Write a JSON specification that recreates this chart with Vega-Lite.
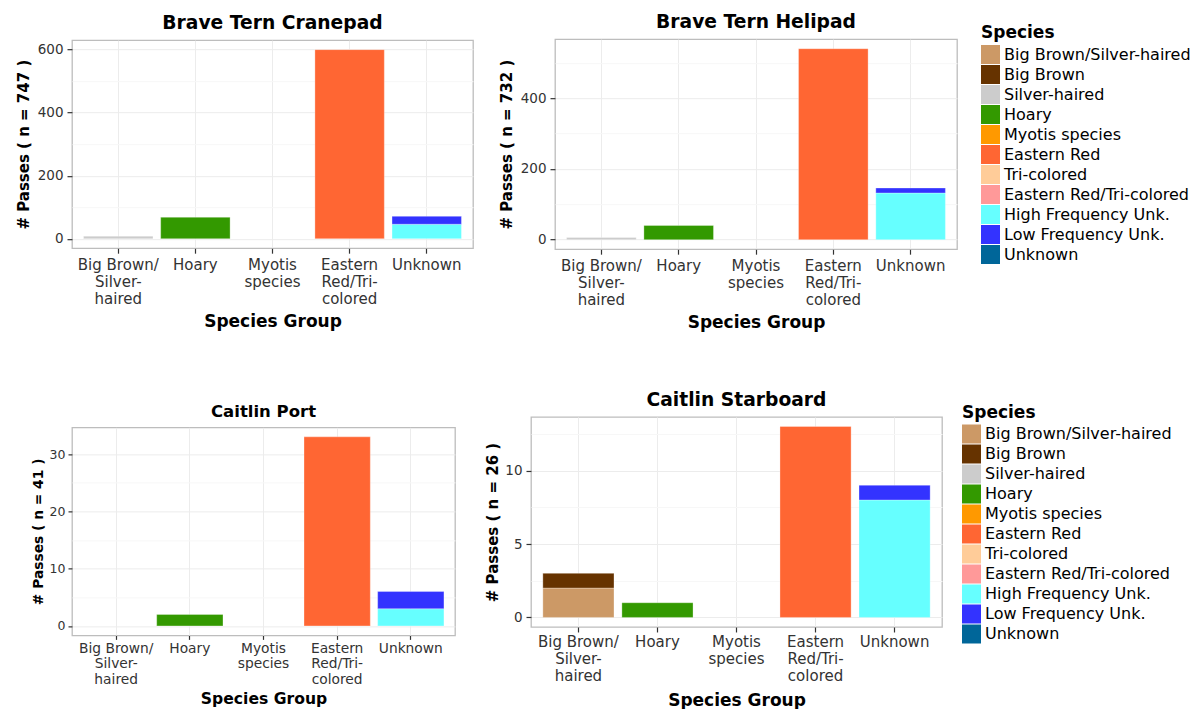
{
  "$schema": "https://vega.github.io/schema/vega-lite/v6.json",
  "padding": {"left": 15, "top": 12, "right": 0, "bottom": -8},
  "background": "#ffffff",
  "datasets": {
    "bats": [
      {"site": "Brave Tern Cranepad", "group": "Big Brown/Silver-haired", "species": "Silver-haired", "n": 8, "k": 3},
      {"site": "Brave Tern Cranepad", "group": "Hoary", "species": "Hoary", "n": 68, "k": 4},
      {"site": "Brave Tern Cranepad", "group": "Eastern Red/Tri-colored", "species": "Eastern Red", "n": 600, "k": 6},
      {"site": "Brave Tern Cranepad", "group": "Unknown", "species": "High Frequency Unk.", "n": 46, "k": 9},
      {"site": "Brave Tern Cranepad", "group": "Unknown", "species": "Low Frequency Unk.", "n": 25, "k": 10},
      {"site": "Brave Tern Helipad", "group": "Big Brown/Silver-haired", "species": "Silver-haired", "n": 6, "k": 3},
      {"site": "Brave Tern Helipad", "group": "Hoary", "species": "Hoary", "n": 40, "k": 4},
      {"site": "Brave Tern Helipad", "group": "Eastern Red/Tri-colored", "species": "Eastern Red", "n": 540, "k": 6},
      {"site": "Brave Tern Helipad", "group": "Unknown", "species": "High Frequency Unk.", "n": 132, "k": 9},
      {"site": "Brave Tern Helipad", "group": "Unknown", "species": "Low Frequency Unk.", "n": 14, "k": 10},
      {"site": "Caitlin Port", "group": "Hoary", "species": "Hoary", "n": 2, "k": 4},
      {"site": "Caitlin Port", "group": "Eastern Red/Tri-colored", "species": "Eastern Red", "n": 33, "k": 6},
      {"site": "Caitlin Port", "group": "Unknown", "species": "High Frequency Unk.", "n": 3, "k": 9},
      {"site": "Caitlin Port", "group": "Unknown", "species": "Low Frequency Unk.", "n": 3, "k": 10},
      {"site": "Caitlin Starboard", "group": "Big Brown/Silver-haired", "species": "Big Brown/Silver-haired", "n": 2, "k": 1},
      {"site": "Caitlin Starboard", "group": "Big Brown/Silver-haired", "species": "Big Brown", "n": 1, "k": 2},
      {"site": "Caitlin Starboard", "group": "Hoary", "species": "Hoary", "n": 1, "k": 4},
      {"site": "Caitlin Starboard", "group": "Eastern Red/Tri-colored", "species": "Eastern Red", "n": 13, "k": 6},
      {"site": "Caitlin Starboard", "group": "Unknown", "species": "High Frequency Unk.", "n": 8, "k": 9},
      {"site": "Caitlin Starboard", "group": "Unknown", "species": "Low Frequency Unk.", "n": 1, "k": 10}
    ]
  },
  "config": {
    "font": "DejaVu Sans",
    "view": {"stroke": "#bdbdbd", "strokeWidth": 1.3},
    "axis": {
      "labelColor": "#333333",
      "labelFontSize": 15,
      "tickColor": "#333333",
      "tickSize": 5,
      "tickWidth": 1.2,
      "domain": false,
      "gridColor": "#ececec",
      "gridWidth": 1,
      "titleFontSize": 17,
      "titleFontWeight": "bold",
      "titleColor": "#000000"
    },
    "axisY": {"titleFontSize": 15, "labelFontSize": 13.5},
    "title": {"fontSize": 18.7, "fontWeight": "bold", "color": "#000000", "anchor": "middle", "frame": "group", "offset": 7},
    "legend": {
      "titleFontSize": 17,
      "titleFontWeight": "bold",
      "titleColor": "#000000",
      "titleLimit": 500,
      "labelFontSize": 16,
      "labelColor": "#000000",
      "labelLimit": 300,
      "symbolType": "square",
      "symbolSize": 361,
      "symbolStrokeWidth": 0,
      "symbolOpacity": 1,
      "rowPadding": 1,
      "labelOffset": 4,
      "titlePadding": 3
    }
  },
  "spacing": 59.5,
  "resolve": {"scale": {"color": "independent"}, "legend": {"color": "independent"}},
  "vconcat": [
    {
      "spacing": 24,
      "center": true,
      "resolve": {"scale": {"color": "shared"}},
      "hconcat": [
        {
          "title": "Brave Tern Cranepad",
          "width": 401,
          "height": 208,
          "data": {"name": "bats"},
          "transform": [{"filter": "datum.site === 'Brave Tern Cranepad'"}],
          "mark": {"type": "bar", "stroke": "#ffffff", "strokeWidth": 0.6, "strokeOpacity": 0.5},
          "encoding": {
            "x": {"field": "group", "type": "nominal", "title": "Species Group",
              "scale": {"domain": ["Big Brown/Silver-haired", "Hoary", "Myotis species", "Eastern Red/Tri-colored", "Unknown"], "paddingInner": 0.1, "paddingOuter": 0.15},
              "axis": {"grid": true, "labelAngle": 0, "labelBaseline": "top", "labelPadding": 4, "labelLineHeight": 17, "titlePadding": 7,
                "labelExpr": "datum.value === 'Big Brown/Silver-haired' ? ['Big Brown/', 'Silver-', 'haired'] : datum.value === 'Myotis species' ? ['Myotis', 'species'] : datum.value === 'Eastern Red/Tri-colored' ? ['Eastern', 'Red/Tri-', 'colored'] : datum.label"}},
            "y": {"field": "n", "type": "quantitative", "title": "# Passes ( n = 747 )",
              "scale": {"domain": [-30, 630], "nice": false, "zero": false},
              "axis": {"values": [0, 100, 200, 300, 400, 500, 600], "labelExpr": "datum.value % 200 === 0 ? datum.label : ''",
                "tickOpacity": {"condition": {"test": "datum.value % 200 !== 0", "value": 0}, "value": 1},
                "gridColor": {"condition": {"test": "datum.value % 200 !== 0", "value": "#f7f7f7"}, "value": "#ececec"},
                "labelPadding": 4, "minExtent": 35, "maxExtent": 35, "titlePadding": 6}},
            "color": {"field": "species", "type": "nominal", "title": "Species",
              "scale": {"domain": ["Big Brown/Silver-haired", "Big Brown", "Silver-haired", "Hoary", "Myotis species", "Eastern Red", "Tri-colored", "Eastern Red/Tri-colored", "High Frequency Unk.", "Low Frequency Unk.", "Unknown"],
                "range": ["#CC9966", "#663300", "#CCCCCC", "#339900", "#FF9900", "#FF6633", "#FFCC99", "#FF9999", "#66FFFF", "#3333FF", "#006699"]},
              "legend": {"orient": "none", "legendX": 909, "legendY": -14}},
            "order": {"field": "k", "type": "quantitative"}
          }
        },
        {
          "title": "Brave Tern Helipad",
          "width": 402,
          "height": 210,
          "data": {"name": "bats"},
          "transform": [{"filter": "datum.site === 'Brave Tern Helipad'"}],
          "mark": {"type": "bar", "stroke": "#ffffff", "strokeWidth": 0.6, "strokeOpacity": 0.5},
          "encoding": {
            "x": {"field": "group", "type": "nominal", "title": "Species Group",
              "scale": {"domain": ["Big Brown/Silver-haired", "Hoary", "Myotis species", "Eastern Red/Tri-colored", "Unknown"], "paddingInner": 0.1, "paddingOuter": 0.15},
              "axis": {"grid": true, "labelAngle": 0, "labelBaseline": "top", "labelPadding": 4, "labelLineHeight": 17, "titlePadding": 7,
                "labelExpr": "datum.value === 'Big Brown/Silver-haired' ? ['Big Brown/', 'Silver-', 'haired'] : datum.value === 'Myotis species' ? ['Myotis', 'species'] : datum.value === 'Eastern Red/Tri-colored' ? ['Eastern', 'Red/Tri-', 'colored'] : datum.label"}},
            "y": {"field": "n", "type": "quantitative", "title": "# Passes ( n = 732 )",
              "scale": {"domain": [-27, 567], "nice": false, "zero": false},
              "axis": {"values": [0, 100, 200, 300, 400, 500], "labelExpr": "datum.value % 200 === 0 ? datum.label : ''",
                "tickOpacity": {"condition": {"test": "datum.value % 200 !== 0", "value": 0}, "value": 1},
                "gridColor": {"condition": {"test": "datum.value % 200 !== 0", "value": "#f7f7f7"}, "value": "#ececec"},
                "labelPadding": 4, "minExtent": 35, "maxExtent": 35, "titlePadding": 6}},
            "color": {"field": "species", "type": "nominal", "title": "Species",
              "scale": {"domain": ["Big Brown/Silver-haired", "Big Brown", "Silver-haired", "Hoary", "Myotis species", "Eastern Red", "Tri-colored", "Eastern Red/Tri-colored", "High Frequency Unk.", "Low Frequency Unk.", "Unknown"],
                "range": ["#CC9966", "#663300", "#CCCCCC", "#339900", "#FF9900", "#FF6633", "#FFCC99", "#FF9999", "#66FFFF", "#3333FF", "#006699"]},
              "legend": {"orient": "none", "legendX": 909, "legendY": -14}},
            "order": {"field": "k", "type": "quantitative"}
          }
        }
      ]
    },
    {
      "spacing": 28,
      "center": true,
      "resolve": {"scale": {"color": "shared"}},
      "hconcat": [
        {
          "title": {"text": "Caitlin Port", "fontSize": 16.5, "offset": 7},
          "width": 383,
          "height": 208,
          "data": {"name": "bats"},
          "transform": [{"filter": "datum.site === 'Caitlin Port'"}],
          "mark": {"type": "bar", "stroke": "#ffffff", "strokeWidth": 0.6, "strokeOpacity": 0.5},
          "encoding": {
            "x": {"field": "group", "type": "nominal", "title": "Species Group",
              "scale": {"domain": ["Big Brown/Silver-haired", "Hoary", "Myotis species", "Eastern Red/Tri-colored", "Unknown"], "paddingInner": 0.1, "paddingOuter": 0.15},
              "axis": {"grid": true, "labelAngle": 0, "labelBaseline": "top", "labelPadding": 2, "labelLineHeight": 15.6, "labelFontSize": 13.8, "tickSize": 4, "titleFontSize": 15.6, "titlePadding": 5,
                "labelExpr": "datum.value === 'Big Brown/Silver-haired' ? ['Big Brown/', 'Silver-', 'haired'] : datum.value === 'Myotis species' ? ['Myotis', 'species'] : datum.value === 'Eastern Red/Tri-colored' ? ['Eastern', 'Red/Tri-', 'colored'] : datum.label"}},
            "y": {"field": "n", "type": "quantitative", "title": "# Passes ( n = 41 )",
              "scale": {"domain": [-1.65, 34.65], "nice": false, "zero": false},
              "axis": {"values": [0, 5, 10, 15, 20, 25, 30], "labelExpr": "datum.value % 10 === 0 ? datum.label : ''",
                "tickOpacity": {"condition": {"test": "datum.value % 10 !== 0", "value": 0}, "value": 1},
                "gridColor": {"condition": {"test": "datum.value % 10 !== 0", "value": "#f7f7f7"}, "value": "#ececec"},
                "labelFontSize": 12.5, "titleFontSize": 13.8, "tickSize": 4,
                "labelPadding": 3, "minExtent": 24, "maxExtent": 24, "titlePadding": 3}},
            "color": {"field": "species", "type": "nominal", "title": "Species",
              "scale": {"domain": ["Big Brown/Silver-haired", "Big Brown", "Silver-haired", "Hoary", "Myotis species", "Eastern Red", "Tri-colored", "Eastern Red/Tri-colored", "High Frequency Unk.", "Low Frequency Unk.", "Unknown"],
                "range": ["#CC9966", "#663300", "#CCCCCC", "#339900", "#FF9900", "#FF6633", "#FFCC99", "#FF9999", "#66FFFF", "#3333FF", "#006699"]},
              "legend": {"orient": "none", "legendX": 890, "legendY": -12}},
            "order": {"field": "k", "type": "quantitative"}
          }
        },
        {
          "title": "Caitlin Starboard",
          "width": 411,
          "height": 210,
          "data": {"name": "bats"},
          "transform": [{"filter": "datum.site === 'Caitlin Starboard'"}],
          "mark": {"type": "bar", "stroke": "#ffffff", "strokeWidth": 0.6, "strokeOpacity": 0.5},
          "encoding": {
            "x": {"field": "group", "type": "nominal", "title": ["Species Group", ""],
              "scale": {"domain": ["Big Brown/Silver-haired", "Hoary", "Myotis species", "Eastern Red/Tri-colored", "Unknown"], "paddingInner": 0.1, "paddingOuter": 0.15},
              "axis": {"grid": true, "labelAngle": 0, "labelBaseline": "top", "labelPadding": 3, "labelLineHeight": 16.7, "titlePadding": 9, "titleLineHeight": 9,
                "labelExpr": "datum.value === 'Big Brown/Silver-haired' ? ['Big Brown/', 'Silver-', 'haired'] : datum.value === 'Myotis species' ? ['Myotis', 'species'] : datum.value === 'Eastern Red/Tri-colored' ? ['Eastern', 'Red/Tri-', 'colored'] : datum.label"}},
            "y": {"field": "n", "type": "quantitative", "title": "# Passes ( n = 26 )",
              "scale": {"domain": [-0.65, 13.65], "nice": false, "zero": false},
              "axis": {"values": [0, 2.5, 5, 7.5, 10, 12.5], "labelExpr": "datum.value % 5 === 0 ? datum.label : ''",
                "tickOpacity": {"condition": {"test": "datum.value % 5 !== 0", "value": 0}, "value": 1},
                "gridColor": {"condition": {"test": "datum.value % 5 !== 0", "value": "#f7f7f7"}, "value": "#ececec"},
                "labelPadding": 4, "minExtent": 27, "maxExtent": 27, "titlePadding": 4}},
            "color": {"field": "species", "type": "nominal", "title": "Species",
              "scale": {"domain": ["Big Brown/Silver-haired", "Big Brown", "Silver-haired", "Hoary", "Myotis species", "Eastern Red", "Tri-colored", "Eastern Red/Tri-colored", "High Frequency Unk.", "Low Frequency Unk.", "Unknown"],
                "range": ["#CC9966", "#663300", "#CCCCCC", "#339900", "#FF9900", "#FF6633", "#FFCC99", "#FF9999", "#66FFFF", "#3333FF", "#006699"]},
              "legend": {"orient": "none", "legendX": 890, "legendY": -12}},
            "order": {"field": "k", "type": "quantitative"}
          }
        }
      ]
    }
  ]
}
